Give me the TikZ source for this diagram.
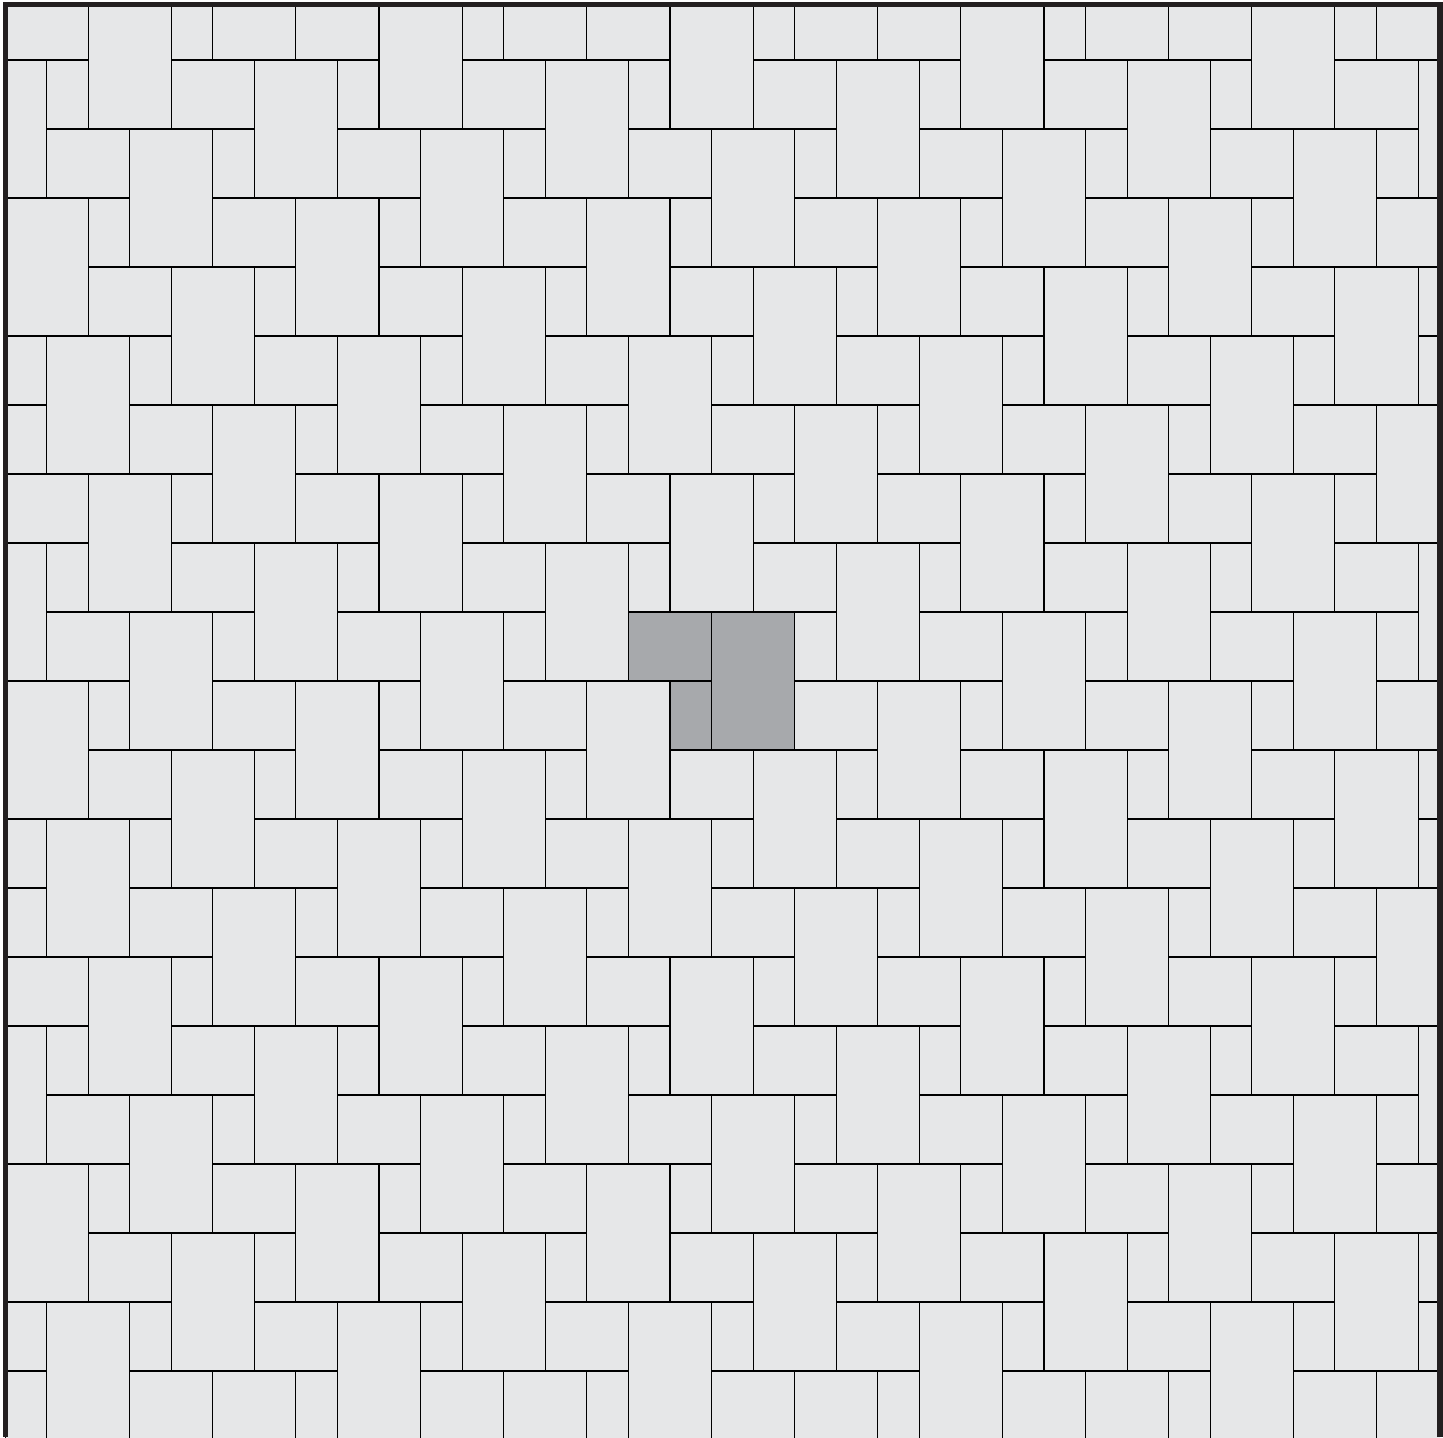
\documentclass[tikz,border=0pt]{standalone}
\usepackage{tikz}
\definecolor{tilelight}{RGB}{230,231,232}
\definecolor{tilegrey}{RGB}{167,169,172}
\definecolor{framedark}{RGB}{35,31,32}
\tikzset{
  tile/.style={draw=black, fill=tilelight, line width=0.55pt},
  greytile/.style={draw=black, fill=tilegrey, line width=0.55pt},
  frameline/.style={draw=framedark, line width=2.6pt}
}
% one repeat unit: half tile, small tile, big tile
\newcommand{\tileunit}[3]{%
  \draw[#1] (#2,#3) rectangle ++(2,1);
  \draw[#1] (#2+1,#3+1) rectangle ++(1,1);
  \draw[#1] (#2+2,#3) rectangle ++(2,2);
}

\begin{document}
\begin{tikzpicture}[x=0.5pt, y=-0.5pt]
  \useasboundingbox (0,0) rectangle (1443,1437);

  \begin{scope}
    \clip (5,5) rectangle (1440,1437);
    % paving grid, 41.56px x 69px cells
    \begin{scope}[shift={(2.5pt,-30pt)}, x=20.78pt, y=-34.5pt]
      \foreach \a in {-9,...,10} {
        \foreach \b in {-9,...,9} {
          \pgfmathtruncatemacro{\cc}{15+(\a)-3*(\b)}
          \pgfmathtruncatemacro{\rr}{8+2*(\a)+(\b)}
          \tileunit{tile}{\cc}{\rr}
        }
      }
      % highlighted unit
      \tileunit{greytile}{15}{8}
    \end{scope}
  \end{scope}

  % frame
  \draw[frameline] (5.5,1437) -- (5.5,4.5) -- (1440,4.5) -- (1440,1437);
\end{tikzpicture}
\end{document}
